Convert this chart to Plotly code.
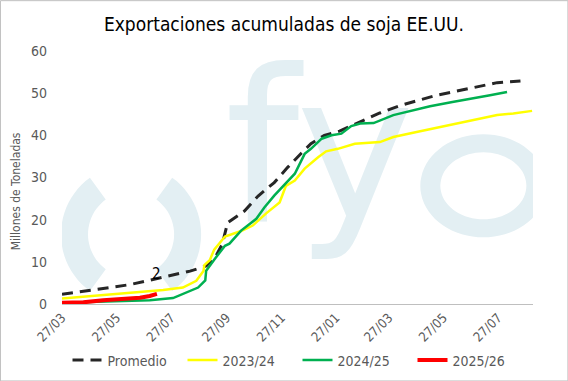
import math
import plotly.graph_objects as go

# ---------------- data ----------------
prom_dates = ["2024-03-27", "2024-04-20", "2024-05-16", "2024-06-11", "2024-07-03", "2024-07-22",
              "2024-08-17", "2024-09-04", "2024-09-15", "2024-09-22", "2024-09-28", "2024-10-17",
              "2024-11-01", "2024-11-19", "2024-12-04", "2024-12-19", "2024-12-30", "2025-01-14",
              "2025-01-31", "2025-02-23", "2025-03-17", "2025-04-09", "2025-04-28", "2025-05-19",
              "2025-06-11", "2025-07-03", "2025-07-26", "2025-08-21"]
prom_vals = [2.3, 3.1, 3.8, 4.6, 5.6, 6.6,
             7.8, 9.0, 11.4, 14.2, 19.3, 22.1,
             25.6, 28.8, 32.4, 35.7, 38.0, 40.0,
             41.0, 43.2, 45.3, 47.1, 48.3, 49.5,
             50.5, 51.5, 52.5, 52.9]

y2324_dates = ["2024-03-27", "2024-04-20", "2024-05-27", "2024-06-18", "2024-07-18", "2024-08-09",
               "2024-08-24", "2024-09-01", "2024-09-02", "2024-09-08", "2024-09-13", "2024-09-25",
               "2024-10-13", "2024-10-26", "2024-11-10", "2024-11-25", "2024-12-02", "2024-12-12",
               "2024-12-23", "2025-01-07", "2025-01-16", "2025-01-29", "2025-02-09", "2025-02-17",
               "2025-03-17", "2025-04-01", "2025-04-27", "2025-05-23", "2025-06-14", "2025-07-07",
               "2025-07-26", "2025-08-13", "2025-09-03"]
y2324_vals = [1.3, 1.7, 2.3, 2.7, 3.3, 3.9,
              5.5, 7.8, 9.2, 10.4, 12.9, 16.0,
              17.3, 18.6, 21.5, 24.1, 28.0, 29.3,
              32.1, 34.8, 36.2, 36.8, 37.5, 38.0,
              38.4, 39.6, 40.8, 42.0, 42.9, 44.0,
              44.8, 45.2, 45.8]

y2425_dates = ["2024-03-27", "2024-05-27", "2024-07-03", "2024-07-29", "2024-08-13", "2024-08-26",
               "2024-09-03", "2024-09-04", "2024-09-14", "2024-09-25", "2024-09-30", "2024-10-13",
               "2024-10-30", "2024-11-08", "2024-11-19", "2024-11-30", "2024-12-12", "2024-12-23",
               "2024-12-30", "2025-01-11", "2025-01-22", "2025-02-02", "2025-02-13", "2025-02-23",
               "2025-03-10", "2025-04-01", "2025-04-20", "2025-05-12", "2025-06-06", "2025-06-29",
               "2025-07-18", "2025-08-06"]
y2425_vals = [0.3, 0.7, 0.9, 1.4, 2.7, 3.9,
              5.6, 7.9, 10.8, 13.8, 14.3, 17.4,
              20.2, 22.9, 25.7, 28.1, 30.9, 35.6,
              36.8, 39.2, 40.0, 40.4, 42.2, 42.8,
              42.9, 44.8, 45.8, 46.9, 47.9, 48.7,
              49.5, 50.3]

y2526_dates = ["2024-03-27", "2024-04-20", "2024-05-12", "2024-06-03", "2024-06-22", "2024-07-03",
               "2024-07-11"]
y2526_vals = [0.3, 0.4, 0.9, 1.1, 1.5, 1.9, 2.4]

series_names = ["Promedio", "2023/24", "2024/25", "2025/26"]
x_tick_format = "%d/%m"
y_ticks = [0, 10, 20, 30, 40, 50, 60]
last_label = "2"

# ---------------- layout constants ----------------
W, H = 568, 381
ML, MR, MT, MB = 62, 35.4, 50.8, 77.4
PX0, PX1 = ML, W - MR
PY_BOT, PY_TOP = H - MB, MT
PW, PH = PX1 - PX0, PY_BOT - PY_TOP

FONT = "DejaVu Sans Condensed, Liberation Sans Narrow, Roboto, sans-serif"
GREY = "#595959"
WM = "#e3eff3"


def px_to_paper(px, py):
    return (px - PX0) / PW, (PY_BOT - py) / PH


fig = go.Figure()

# watermark letters "f" and "y" of the logo (pixel-coordinate base axes, under the data)
fig.add_trace(go.Scatter(
    x=[262, 355], y=[168, 167], mode="text", text=["f", "y"],
    textposition="middle center",
    textfont=dict(family="DejaVu Sans", size=[212, 200], color=WM),
    hoverinfo="skip", showlegend=False, xaxis="x", yaxis="y"))


def sector(cx, cy, ro, ri, a0, a1, n=24, sx=1.0, sy=1.0):
    pts = []
    for i in range(n + 1):
        a = math.radians(a0 + (a1 - a0) * i / n)
        pts.append((cx + ro * sx * math.cos(a), cy - ro * sy * math.sin(a)))
    for i in range(n + 1):
        a = math.radians(a1 - (a1 - a0) * i / n)
        pts.append((cx + ri[0] * math.cos(a), cy - ri[1] * math.sin(a)))
    return "M " + " L ".join(f"{x:.1f},{y:.1f}" for x, y in pts) + " Z"


shapes = []
# crescent pieces of the logo
for a0, a1 in [(126, 234), (-54, 54)]:
    shapes.append(dict(type="path", path=sector(131, 234, 70, (43, 43), a0, a1),
                       xref="x", yref="y", fillcolor=WM, line=dict(width=0), layer="below"))
# the "o" ring of the logo
shapes.append(dict(type="path", path=sector(483, 185.5, 1, (43, 33.5), 0, 360, n=72, sx=63, sy=51.5),
                   xref="x", yref="y", fillcolor=WM, line=dict(width=0), layer="below"))

# outer border of the figure
bx0, by1 = px_to_paper(0.5, 0.5)
bx1, by0 = px_to_paper(W - 0.5, H - 0.5)
shapes.append(dict(type="rect", xref="paper", yref="paper", x0=bx0, x1=bx1, y0=by0, y1=by1,
                   line=dict(color="#BFBFBF", width=1), fillcolor="rgba(0,0,0,0)", layer="above"))

# data
fig.add_trace(go.Scatter(x=prom_dates, y=prom_vals, name=series_names[0], mode="lines",
                         line=dict(color="#262626", width=3, dash="11px,7px"),
                         xaxis="x2", yaxis="y2"))
fig.add_trace(go.Scatter(x=y2324_dates, y=y2324_vals, name=series_names[1], mode="lines",
                         line=dict(color="#FFFF00", width=2.5), xaxis="x2", yaxis="y2"))
fig.add_trace(go.Scatter(x=y2425_dates, y=y2425_vals, name=series_names[2], mode="lines",
                         line=dict(color="#00B050", width=2.5), xaxis="x2", yaxis="y2"))
fig.add_trace(go.Scatter(x=y2526_dates, y=y2526_vals, name=series_names[3], mode="lines",
                         line=dict(color="#FF0000", width=4), xaxis="x2", yaxis="y2"))

tx, ty = px_to_paper(16, 191)
annotations = [
    dict(text="Millones de Toneladas", xref="paper", yref="paper", x=tx, y=ty, textangle=-90,
         xanchor="center", yanchor="middle",
         showarrow=False, font=dict(family=FONT, size=12, color=GREY)),
    dict(text=last_label, xref="x2", yref="y2", x=y2526_dates[-1], y=y2526_vals[-1],
         yshift=20, showarrow=False, font=dict(family=FONT, size=15, color="#000000")),
]

lx, ly = px_to_paper(0, 344)

fig.update_layout(
    width=W, height=H,
    margin=dict(l=ML, r=MR, t=MT, b=MB, pad=0, autoexpand=False),
    paper_bgcolor="white", plot_bgcolor="white",
    title=dict(text="Exportaciones acumuladas de soja EE.UU.", x=0.5, xref="container",
               xanchor="center", y=1 - 24 / H, yanchor="middle",
               font=dict(family=FONT, size=19, color="#000000")),
    xaxis=dict(range=[PX0, PX1], visible=False, fixedrange=True),
    yaxis=dict(range=[PY_BOT, PY_TOP], visible=False, fixedrange=True),
    xaxis2=dict(overlaying="x", type="date", range=["2024-03-27", "2025-09-04"],
                tick0="2024-03-27", dtick="M2", tickformat=x_tick_format, tickangle=-45,
                showline=True, linecolor="#BFBFBF", linewidth=1, showgrid=False, zeroline=False,
                ticks="", side="bottom",
                tickfont=dict(family=FONT, size=13, color=GREY)),
    yaxis2=dict(overlaying="y", range=[0, 60], tickvals=y_ticks, showgrid=False, zeroline=False,
                showline=False, side="left", ticks="", ticklabelstandoff=14,
                tickfont=dict(family=FONT, size=14, color=GREY)),
    legend=dict(orientation="h", x=0.5, xanchor="center", y=ly, yanchor="top",
                font=dict(family=FONT, size=14, color=GREY), entrywidth=70,
                bgcolor="rgba(0,0,0,0)"),
    shapes=shapes,
    annotations=annotations,
    showlegend=True,
)

fig.write_html("out.html", config={"displayModeBar": False},
               post_script="document.body.style.margin='0px';document.body.style.overflow='hidden';")
